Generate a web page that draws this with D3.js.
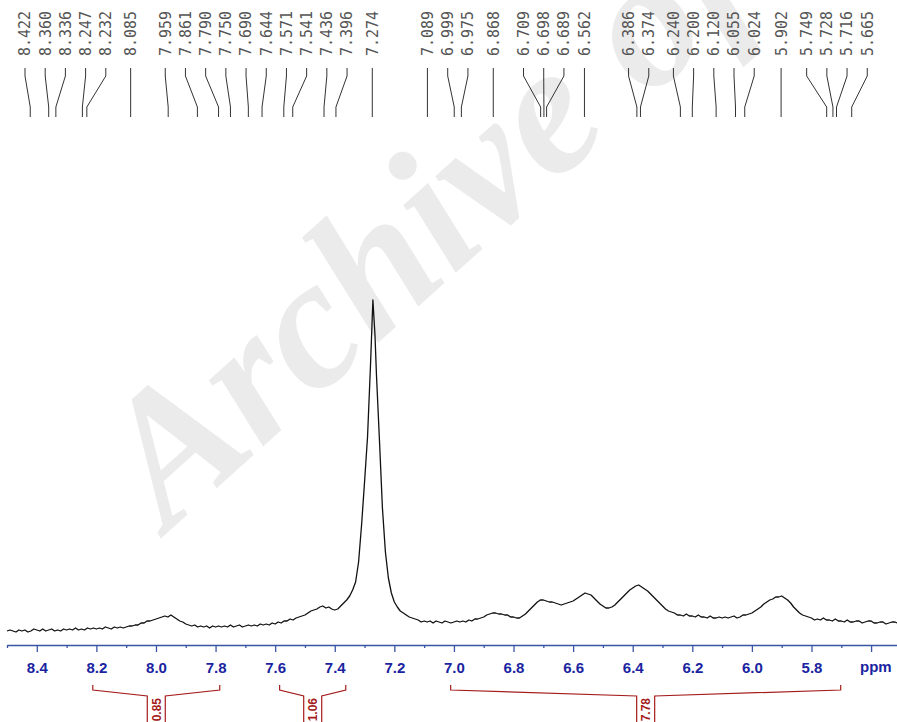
<!DOCTYPE html>
<html>
<head>
<meta charset="utf-8">
<script src="https://cdn.jsdelivr.net/npm/d3@7"></script>
<style>
  body { margin: 0; background: #fff; }
  svg { display: block; }
</style>
</head>
<body>
<svg id="chart" width="897" height="722"></svg>
<script>
// spectrum: [ppm, intensity]
const spectrum = [
  [8.50, 9], [8.49, 10], [8.48, 9], [8.47, 8], [8.46, 10], [8.45, 9], [8.44, 10], [8.43, 8],
  [8.42, 9], [8.41, 11], [8.40, 10], [8.39, 9], [8.38, 11], [8.37, 9], [8.36, 10], [8.35, 11],
  [8.34, 9], [8.33, 10], [8.32, 9], [8.31, 11], [8.30, 10], [8.29, 11], [8.28, 10], [8.27, 12],
  [8.26, 10], [8.25, 11], [8.24, 10], [8.23, 12], [8.22, 11], [8.21, 12], [8.20, 11], [8.19, 12],
  [8.18, 11], [8.17, 13], [8.16, 12], [8.15, 11], [8.14, 13], [8.13, 12], [8.12, 13], [8.11, 12],
  [8.10, 13], [8.09, 14], [8.08, 14], [8.07, 15], [8.06, 15], [8.05, 17], [8.04, 17], [8.03, 19],
  [8.02, 19], [8.01, 20], [8.00, 21], [7.99, 22], [7.98, 23], [7.97, 24], [7.96, 23], [7.95, 25],
  [7.94, 23], [7.93, 21], [7.92, 19], [7.91, 18], [7.90, 16], [7.89, 15], [7.88, 14], [7.87, 15],
  [7.86, 13], [7.85, 14], [7.84, 13], [7.83, 14], [7.82, 12], [7.81, 14], [7.80, 13], [7.79, 14],
  [7.78, 13], [7.77, 14], [7.76, 13], [7.75, 15], [7.74, 13], [7.73, 14], [7.72, 15], [7.71, 13],
  [7.70, 14], [7.69, 15], [7.68, 14], [7.67, 15], [7.66, 14], [7.65, 16], [7.64, 15], [7.63, 16],
  [7.62, 15], [7.61, 17], [7.60, 16], [7.59, 18], [7.58, 17], [7.57, 19], [7.56, 19], [7.55, 21],
  [7.54, 20], [7.53, 22], [7.52, 23], [7.51, 24], [7.50, 25], [7.49, 27], [7.48, 29], [7.47, 30],
  [7.46, 31], [7.45, 33], [7.44, 34], [7.43, 32], [7.42, 33], [7.41, 31], [7.40, 30], [7.39, 31],
  [7.38, 34], [7.37, 37], [7.36, 40], [7.35, 44], [7.34, 50],
  [7.33, 58], [7.32, 78], [7.31, 115], [7.30, 158], [7.29, 203], [7.28, 275], [7.272, 340],
  [7.265, 305], [7.26, 265], [7.25, 200], [7.24, 132], [7.23, 88], [7.22, 62], [7.21, 47],
  [7.20, 38], [7.19, 33], [7.18, 29], [7.17, 27], [7.16, 25], [7.15, 23], [7.14, 22], [7.13, 21],
  [7.12, 20], [7.11, 18], [7.10, 19], [7.09, 18], [7.08, 19], [7.07, 17], [7.06, 19], [7.05, 18],
  [7.04, 17], [7.03, 19], [7.02, 18], [7.01, 17], [7.00, 18], [6.99, 19], [6.98, 18], [6.97, 19],
  [6.96, 18], [6.95, 20], [6.94, 19], [6.93, 21], [6.92, 21], [6.91, 22], [6.90, 23], [6.89, 25],
  [6.88, 26], [6.87, 27], [6.86, 27], [6.85, 26], [6.84, 26], [6.83, 25], [6.82, 25], [6.81, 23],
  [6.80, 23], [6.79, 22], [6.78, 22], [6.77, 24], [6.76, 26], [6.75, 29], [6.74, 32], [6.73, 35],
  [6.72, 38], [6.71, 40], [6.70, 40], [6.69, 39], [6.68, 38], [6.67, 38], [6.66, 37], [6.65, 36],
  [6.64, 35], [6.63, 36], [6.62, 37], [6.61, 38], [6.60, 39], [6.59, 41], [6.58, 43], [6.57, 45],
  [6.56, 47], [6.55, 46], [6.54, 45], [6.53, 42], [6.52, 39], [6.51, 36], [6.50, 34], [6.49, 32],
  [6.48, 32], [6.47, 33], [6.46, 35], [6.45, 38], [6.44, 41], [6.43, 44], [6.42, 47], [6.41, 50],
  [6.40, 52], [6.39, 54], [6.38, 55], [6.37, 53], [6.36, 51], [6.35, 49], [6.34, 46], [6.33, 43],
  [6.32, 40], [6.31, 37], [6.30, 34], [6.29, 31], [6.28, 29], [6.27, 28], [6.26, 27], [6.25, 25],
  [6.24, 25], [6.23, 24], [6.22, 26], [6.21, 24], [6.20, 24], [6.19, 23], [6.18, 25], [6.17, 23],
  [6.16, 23], [6.15, 22], [6.14, 24], [6.13, 22], [6.12, 22], [6.11, 23], [6.10, 22], [6.09, 23],
  [6.08, 22], [6.07, 23], [6.06, 24], [6.05, 22], [6.04, 23], [6.03, 25], [6.02, 25], [6.01, 26],
  [6.00, 27], [5.99, 29], [5.98, 31], [5.97, 33], [5.96, 36], [5.95, 38], [5.94, 40], [5.93, 41],
  [5.92, 43], [5.91, 43], [5.90, 44], [5.89, 42], [5.88, 40], [5.87, 37], [5.86, 33], [5.85, 30],
  [5.84, 27], [5.83, 25], [5.82, 24], [5.81, 23], [5.80, 22], [5.79, 20], [5.78, 21], [5.77, 20],
  [5.76, 22], [5.75, 20], [5.74, 20], [5.73, 19], [5.72, 21], [5.71, 19], [5.70, 19], [5.69, 18],
  [5.68, 20], [5.67, 18], [5.66, 18], [5.65, 19], [5.64, 19], [5.63, 17], [5.62, 18], [5.61, 19],
  [5.60, 19], [5.59, 17], [5.58, 17], [5.57, 18], [5.56, 18], [5.55, 16], [5.54, 17], [5.53, 18],
  [5.52, 18], [5.513, 17]
];

const peakLabels = [8.422, 8.360, 8.336, 8.247, 8.232, 8.085, 7.959, 7.861, 7.790, 7.750,
  7.690, 7.644, 7.571, 7.541, 7.436, 7.396, 7.274, 7.089, 6.999, 6.975, 6.868, 6.709,
  6.698, 6.689, 6.562, 6.386, 6.374, 6.240, 6.200, 6.120, 6.055, 6.024, 5.902, 5.749,
  5.728, 5.716, 5.665];

const integralRanges = [[8.212, 7.786], [7.585, 7.363], [7.011, 5.702]];
const integralValues = ["0.85", "1.06", "7.78"];

const majorTicks = [8.4, 8.2, 8.0, 7.8, 7.6, 7.4, 7.2, 7.0, 6.8, 6.6, 6.4, 6.2, 6.0, 5.8, 5.6];
const minorTicks = [8.5, 8.3, 8.1, 7.9, 7.7, 7.5, 7.3, 7.1, 6.9, 6.7, 6.5, 6.3, 6.1, 5.9, 5.7];

const svg = d3.select("#chart");
const axisY = 645;
const blue = "#1a24a0";
const red = "#a51c1c";

const x = d3.scaleLinear().domain([8.5, 5.513]).range([7, 897]);
const y = d3.scaleLinear().domain([0, 340]).range([640, 300]);

// watermark
svg.append("text")
  .attr("transform", "translate(168,532) rotate(-42)")
  .attr("font-family", "Liberation Serif")
  .attr("font-weight", "bold")
  .attr("font-style", "italic")
  .attr("font-size", 186)
  .attr("fill", "#ebebeb")
  .text("Archive of");

// spectrum
const line = d3.line().x(d => x(d[0])).y(d => y(d[1]));
svg.append("path")
  .datum(spectrum)
  .attr("d", line)
  .attr("fill", "none")
  .attr("stroke", "#111")
  .attr("stroke-width", 1.3)
  .attr("stroke-linejoin", "round");

// axis
const axis = svg.append("g")
  .attr("transform", `translate(0,${axisY})`)
  .call(d3.axisBottom(x).tickValues(majorTicks).tickSize(7).tickSizeOuter(0)
    .tickFormat(d => d === 5.6 ? "" : d3.format(".1f")(d)));
axis.select(".domain").attr("stroke", "#3a55a5").attr("stroke-width", 1.3);
axis.selectAll(".tick line").attr("stroke", "#3a55a5").attr("stroke-width", 1.3);
axis.selectAll(".tick text")
  .attr("y", 17)
  .attr("fill", blue)
  .attr("font-family", "Liberation Sans, Arial, sans-serif")
  .attr("font-weight", "bold")
  .attr("font-size", 15);

const minor = svg.append("g")
  .attr("transform", `translate(0,${axisY})`)
  .call(d3.axisBottom(x).tickValues(minorTicks).tickSize(3).tickSizeOuter(0).tickFormat(""));
minor.select(".domain").remove();
minor.selectAll(".tick line").attr("stroke", "#3a55a5").attr("stroke-width", 1.3);

svg.append("text")
  .attr("x", 860).attr("y", 672)
  .attr("fill", blue)
  .attr("font-family", "Liberation Sans, Arial, sans-serif")
  .attr("font-weight", "bold")
  .attr("font-size", 15)
  .text("ppm");

// peak labels: spread clusters so labels don't overlap
const gap = 20.2, minX = 25, maxX = 868;
let clusters = peakLabels.map(p => ({ peaks: [x(p)] }));
function place(c) {
  const mean = d3.mean(c.peaks);
  const n = c.peaks.length;
  let start = mean - (n - 1) * gap / 2;
  start = Math.max(minX, Math.min(start, maxX - (n - 1) * gap));
  c.start = start;
  c.end = start + (n - 1) * gap;
}
clusters.forEach(place);
let merged = true;
while (merged) {
  merged = false;
  for (let i = 0; i < clusters.length - 1; i++) {
    if (clusters[i + 1].start - clusters[i].end < gap) {
      clusters[i].peaks = clusters[i].peaks.concat(clusters[i + 1].peaks);
      clusters.splice(i + 1, 1);
      place(clusters[i]);
      merged = true;
      break;
    }
  }
}
const labelX = [];
clusters.forEach(c => c.peaks.forEach((p, i) => labelX.push(c.start + i * gap)));

const labels = svg.append("g");
peakLabels.forEach((p, i) => {
  const lx = labelX[i], px = x(p);
  labels.append("text")
    .attr("transform", `translate(${lx},56) rotate(-90)`)
    .attr("dy", "0.36em")
    .attr("font-family", "DejaVu Sans Mono, monospace")
    .attr("font-size", 15)
    .attr("fill", "#555")
    .text(p.toFixed(3));
  labels.append("path")
    .attr("d", `M${lx},68 L${lx},76 L${px},107 L${px},117`)
    .attr("fill", "none")
    .attr("stroke", "#333")
    .attr("stroke-width", 1);
});

// integrals
integralRanges.forEach((r, i) => {
  const x1 = x(r[0]), x2 = x(r[1]), cx = (x1 + x2) / 2;
  const g = svg.append("g");
  g.append("path")
    .attr("d", `M${x1},685 L${x1},690 L${cx - 9},696 L${cx - 9},730 M${cx + 9},730 L${cx + 9},696 L${x2},690 L${x2},685`)
    .attr("fill", "none")
    .attr("stroke", red)
    .attr("stroke-width", 1.2);
  g.append("text")
    .attr("transform", `translate(${cx},698) rotate(-90)`)
    .attr("text-anchor", "end")
    .attr("dy", "0.36em")
    .attr("font-family", "Liberation Sans, Arial, sans-serif")
    .attr("font-weight", "bold")
    .attr("font-size", 12)
    .attr("fill", red)
    .text(integralValues[i]);
});
</script>
</body>
</html>
